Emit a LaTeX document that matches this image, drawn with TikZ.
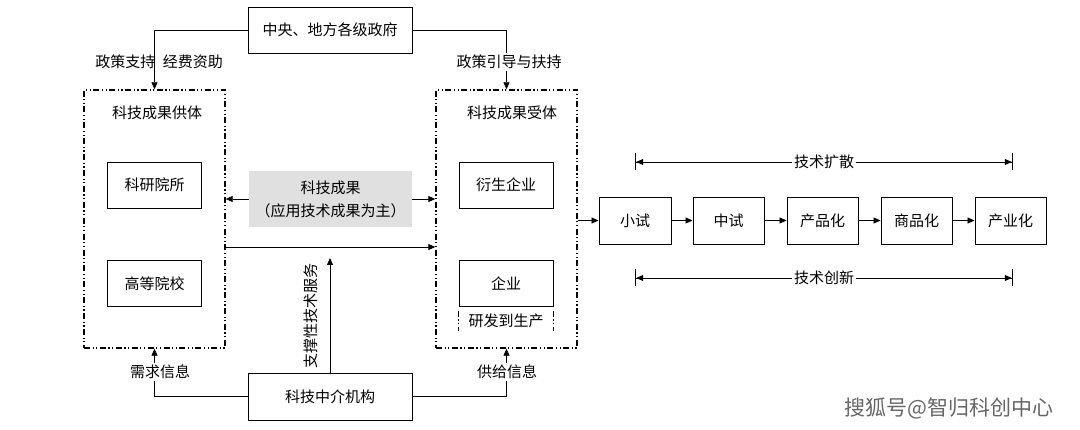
\documentclass[tikz,border=0pt]{standalone}
\usepackage{fontspec}
\setmainfont{Noto Sans CJK SC}
\usetikzlibrary{arrows.meta}

\begin{document}
\begin{tikzpicture}[x=1pt,y=-1pt,
    every node/.style={font=\fontsize{15}{23}\selectfont, inner sep=1pt},
    box/.style={draw, line width=0.9pt, minimum width=94pt, minimum height=46pt},
    grp/.style={draw, line width=1.4pt, dash pattern=on 6pt off 2.5pt on 1.2pt off 2.5pt on 1.2pt off 2.5pt},
    lbl/.style={fill=white, inner sep=2pt},
    conn/.style={line width=0.8pt},
    span/.style={conn, {Bar[width=17pt,line width=1.2pt]Triangle[length=7pt,width=6pt]}-{Triangle[length=7pt,width=6pt]Bar[width=17pt,line width=1.2pt]}},
    >={Triangle[length=7pt,width=6pt]}]
      \useasboundingbox (0,0) rectangle (1080,430);
      % top and bottom
      \node[box, minimum width=164pt] (g) at (330,30) {中央、地方各级政府};
      \node[box, minimum width=164pt, minimum height=47pt] (h) at (330,396.5) {科技中介机构};
      % the two dash-dot groups
      \node[grp, minimum width=141pt, minimum height=258pt] (s) at (154.5,219) {};
      \node[grp, minimum width=141pt, minimum height=258pt] (r) at (506.5,219) {};
      \node (st) at (157,113) {科技成果供体};
      \node (rt) at (512,113) {科技成果受体};
      \node[box] (a) at (154.5,185) {科研院所};
      \node[box] (b) at (154.5,283.5) {高等院校};
      \node[box] (c) at (506,185) {衍生企业};
      \node[box] (d) at (506,283.5) {企业};
      \node (e) at (506,321) {研发到生产};
      \draw[grp, line width=1.1pt] ([yshift=-4pt]d.south west) -- ++(0,-20pt);
      \draw[grp, line width=1.1pt] ([yshift=-4pt]d.south east) -- ++(0,-20pt);
      \node[fill=black!12, minimum width=163pt, minimum height=56pt, align=center] (k) at (330.5,199) {科技成果\\（应用技术成果为主）};
      % chain on the right
      \node[box, minimum width=72pt, minimum height=47pt] (p1) at (635,220.5) {小试};
      \node[box, minimum width=71pt, minimum height=47pt] (p2) at (728.5,220.5) {中试};
      \node[box, minimum width=71pt, minimum height=47pt] (p3) at (822.5,220.5) {产品化};
      \node[box, minimum width=71pt, minimum height=47pt] (p4) at (916.5,220.5) {商品化};
      \node[box, minimum width=71pt, minimum height=47pt] (p5) at (1010.5,220.5) {产业化};
      \coordinate (m) at (330,247);
      \coordinate (t) at (330,258);
      \coordinate (u1) at (635,162);
      \coordinate (u2) at (1013,162);
      \coordinate (v1) at (635,278);
      \coordinate (v2) at (1013,278);
      % connectors
      \draw[conn, ->] (g.west) -| (s.north);
      \draw[conn, ->] (g.east) -| (r.north);
      \node (l1) at (159,62) {政策支持\hspace{0.5em}经费资助};
      \node[lbl] (l2) at (509,62) {政策引导与扶持};
      \draw[conn, ->] (h.west) -| (s.south);
      \draw[conn, ->] (h.east) -| (r.south);
      \node[lbl] (l3) at (160,372) {需求信息};
      \node[lbl] (l4) at (507,372) {供给信息};
      \draw[conn, ->] (k.west) -- (s.east |- k.west);
      \draw[conn, ->] (k.east) -- (r.west |- k.east);
      \draw[conn, ->] (s.east |- m) -- (r.west |- m);
      \draw[conn, ->] (h.north) -- (t);
      \node[rotate=90] (l5) at (311,316) {支撑性技术服务};
      \draw[conn, ->] (r.east |- p1.west) -- (p1.west);
      \foreach \i/\j in {p1/p2,p2/p3,p3/p4,p4/p5}
        \draw[conn, ->] (\i) -- (\j);
      \draw[span] (u1) -- node[lbl] {技术扩散} (u2);
      \draw[span] (v1) -- node[lbl] {技术创新} (v2);
      % watermark
      \node[text=black!60, font=\fontsize{21}{24}\selectfont] (w) at (949,408) {搜狐号@智归科创中心};
\end{tikzpicture}
\end{document}
